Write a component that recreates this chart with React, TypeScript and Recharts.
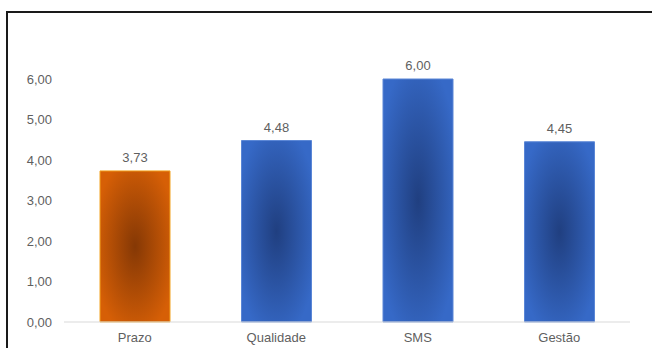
import { BarChart, Bar, XAxis, YAxis, Cell, LabelList } from "recharts";

const CATEGORIES = ["Prazo", "Qualidade", "SMS", "Gestão"];
const SCORES = [3.73, 4.48, 6.0, 4.45];
const BAR_THEME = ["orange", "blue", "blue", "blue"];
const Y_TICKS = [0, 1, 2, 3, 4, 5, 6];

const data = CATEGORIES.map((name, i) => ({ name, score: SCORES[i], theme: BAR_THEME[i] }));

const FONT = "'Liberation Sans', Arial, sans-serif";
const TEXT = "#5f5f5f";

const fmt = (v: number) => v.toFixed(2).replace(".", ",");

const FILLS: Record<string, string> = {
  orange: "url(#gradOrange)",
  blue: "url(#gradBlue)",
};
const STROKES: Record<string, string> = {
  orange: "#f2a21e",
  blue: "#5a86d6",
};

export default function App() {
  return (
    <div style={{ position: "absolute", top: 0, left: 0, width: 652, height: 348, background: "#fff", overflow: "hidden" }}>
      {/* gradients shared by the bars */}
      <svg width={0} height={0} style={{ position: "absolute" }}>
        <defs>
          <radialGradient id="gradOrange" cx="50%" cy="50%" r="60%">
            <stop offset="0%" stopColor="#853805" />
            <stop offset="100%" stopColor="#d65f06" />
          </radialGradient>
          <radialGradient id="gradBlue" cx="50%" cy="50%" r="60%">
            <stop offset="0%" stopColor="#203f80" />
            <stop offset="100%" stopColor="#3669c7" />
          </radialGradient>
        </defs>
      </svg>
      {/* frame: only top and left edges fall inside the view */}
      <div style={{
        position: "absolute", top: 11, left: 6, width: 700, height: 400,
        borderTop: "2px solid #1a1a1a", borderLeft: "2px solid #1a1a1a",
      }} />
      <div style={{ position: "absolute", top: 0, left: 0 }}>
        <BarChart
          width={652}
          height={348}
          data={data}
          margin={{ top: 79, right: 22, bottom: 0, left: 24 }}
          barSize={70}
        >
          <XAxis
            dataKey="name"
            height={26}
            axisLine={{ stroke: "#d9d9d9", strokeWidth: 1 }}
            tickLine={false}
            tickSize={0}
            tickMargin={11}
            interval={0}
            tick={{ fill: TEXT, fontSize: 13, fontFamily: FONT }}
          />
          <YAxis
            width={40}
            domain={[0, 6]}
            ticks={Y_TICKS}
            axisLine={false}
            tickLine={false}
            tickSize={0}
            tickMargin={12}
            tickFormatter={fmt}
            tick={{ fill: TEXT, fontSize: 13, fontFamily: FONT }}
          />
          <Bar dataKey="score" isAnimationActive={false}>
            {data.map((d) => (
              <Cell key={d.name} fill={FILLS[d.theme]} stroke={STROKES[d.theme]} strokeWidth={1} />
            ))}
            <LabelList
              dataKey="score"
              position="top"
              offset={9}
              formatter={(v: any) => fmt(Number(v))}
              style={{ fill: TEXT, fontSize: 13, fontFamily: FONT }}
            />
          </Bar>
        </BarChart>
      </div>
    </div>
  );
}
